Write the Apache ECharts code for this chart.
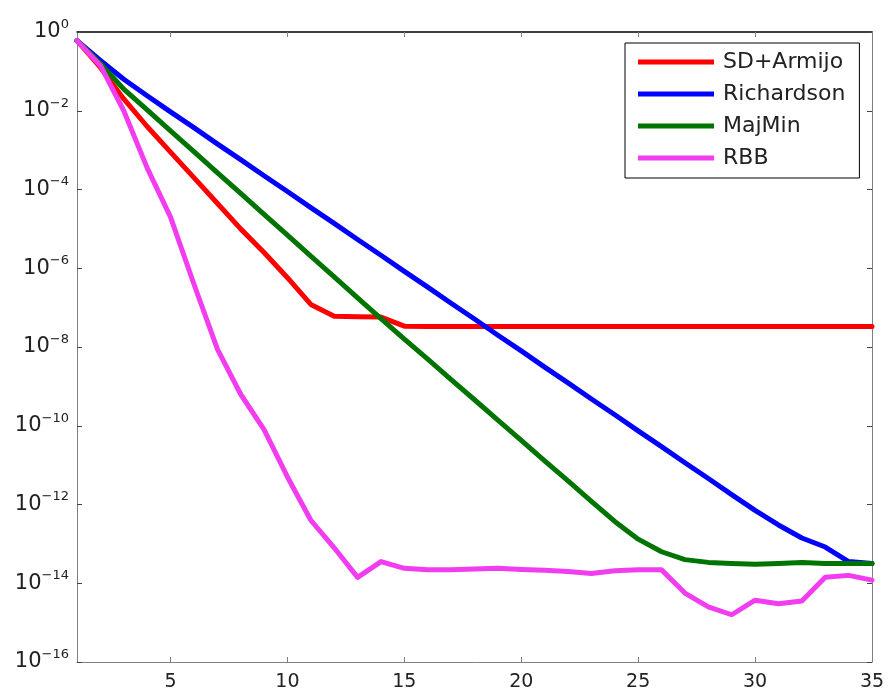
<!DOCTYPE html>
<html>
<head>
<meta charset="utf-8">
<script src="https://cdn.jsdelivr.net/npm/echarts@6/dist/echarts.min.js"></script>
<style>
  html, body { margin: 0; padding: 0; background: #fff; }
  #chart { width: 892px; height: 693px; }
</style>
</head>
<body>
<div id="chart"></div>
<script>
// iteration index
var iterations = [1,2,3,4,5,6,7,8,9,10,11,12,13,14,15,16,17,18,19,20,21,22,23,24,25,26,27,28,29,30,31,32,33,34,35];

// error values as log10 exponents
var sdArmijoLog = [-0.22,-0.9,-1.7,-2.4,-3.05,-3.7,-4.35,-5.0,-5.6,-6.24,-6.92,-7.22,-7.23,-7.24,-7.47,
  -7.48,-7.48,-7.48,-7.48,-7.48,-7.48,-7.48,-7.48,-7.48,-7.48,-7.48,-7.48,-7.48,-7.48,-7.48,-7.48,-7.48,-7.48,-7.48,-7.48];
var richardsonLog = [-0.22,-0.72,-1.2,-1.62,-2.03,-2.43,-2.84,-3.24,-3.65,-4.05,-4.46,-4.86,-5.27,-5.67,-6.08,-6.48,-6.89,
  -7.29,-7.70,-8.10,-8.51,-8.91,-9.32,-9.72,-10.13,-10.53,-10.94,-11.34,-11.75,-12.15,-12.52,-12.85,-13.08,-13.45,-13.5];
var majMinLog = [-0.22,-0.8,-1.45,-1.98,-2.51,-3.04,-3.57,-4.10,-4.63,-5.16,-5.69,-6.22,-6.75,-7.28,-7.80,-8.31,-8.83,
  -9.34,-9.86,-10.37,-10.89,-11.4,-11.92,-12.43,-12.88,-13.2,-13.4,-13.47,-13.5,-13.52,-13.5,-13.47,-13.5,-13.5,-13.5];
var rbbLog = [-0.22,-0.85,-2.0,-3.45,-4.7,-6.4,-8.05,-9.2,-10.1,-11.3,-12.4,-13.1,-13.85,-13.45,-13.62,-13.66,-13.66,
  -13.64,-13.62,-13.65,-13.67,-13.7,-13.75,-13.68,-13.66,-13.66,-14.25,-14.6,-14.8,-14.43,-14.52,-14.45,-13.85,-13.8,-13.92];

var seriesNames = ['SD+Armijo', 'Richardson', 'MajMin', 'RBB'];
var seriesColors = ['#ff0000', '#0000ff', '#007400', '#f23cf0'];
var xTickValues = [5,10,15,20,25,30,35];

function toPoints(logs){
  return iterations.map(function(it, i){ return [it, Math.pow(10, logs[i])]; });
}

function powLabel(v){
  var e = Math.round(Math.log10(v));
  var s = e < 0 ? '\u2212' + (-e) : '' + e;
  return '{b|10}{s|' + s + '}';
}

var chart = echarts.init(document.getElementById('chart'));
var font = 'DejaVu Sans';
var axisGray = '#808080';

var option = {
  animation: false,
  backgroundColor: '#fff',
  grid: { left: 77, right: 20, top: 32, bottom: 31, show: false },
  legend: {
    orient: 'vertical',
    left: 625,
    top: 43,
    padding: [8, 14, 9, 13],
    itemGap: 10,
    itemWidth: 76,
    itemHeight: 5,
    icon: 'rect',
    borderColor: '#000',
    borderWidth: 1,
    backgroundColor: '#fff',
    textStyle: { fontFamily: font, fontSize: 22, color: '#222', padding: [0, 0, 0, 4] },
    data: seriesNames
  },
  xAxis: [{
    type: 'value', min: 1, max: 35,
    axisLine: { lineStyle: { color: axisGray, width: 1 } },
    axisTick: { inside: true, length: 5, customValues: xTickValues, lineStyle: { color: axisGray } },
    axisLabel: { customValues: xTickValues, fontFamily: font, fontSize: 19, color: '#222', margin: 11 },
    splitLine: { show: false }
  }, {
    type: 'value', min: 1, max: 35, position: 'top',
    axisLine: { lineStyle: { color: '#000', width: 1.5 } },
    axisTick: { inside: true, length: 5, customValues: xTickValues, lineStyle: { color: axisGray } },
    axisLabel: { show: false },
    splitLine: { show: false }
  }],
  yAxis: [{
    type: 'log', logBase: 10, min: 1e-16, max: 1, interval: 2,
    axisLine: { show: true, lineStyle: { color: axisGray, width: 1 } },
    axisTick: { show: true, inside: true, length: 5, lineStyle: { color: '#444' } },
    minorTick: { show: false },
    axisLabel: {
      margin: 8,
      padding: [0, 0, 6, 0],
      formatter: powLabel,
      rich: {
        b: { fontFamily: font, fontSize: 21, color: '#222', lineHeight: 22, padding: [6, 0, 0, 0] },
        s: { fontFamily: font, fontSize: 13, color: '#222', verticalAlign: 'top', lineHeight: 13 }
      }
    },
    splitLine: { show: false }
  }, {
    type: 'log', logBase: 10, min: 1e-16, max: 1, interval: 2, position: 'right',
    axisLine: { show: true, lineStyle: { color: axisGray, width: 1 } },
    axisTick: { show: true, inside: true, length: 5, lineStyle: { color: '#444' } },
    axisLabel: { show: false },
    splitLine: { show: false }
  }],
  series: [sdArmijoLog, richardsonLog, majMinLog, rbbLog].map(function(logs, i){
    return {
      name: seriesNames[i],
      type: 'line',
      data: toPoints(logs),
      showSymbol: false,
      symbol: 'none',
      color: seriesColors[i],
      lineStyle: { width: 5, color: seriesColors[i], join: 'round', cap: 'round' },
      z: 2 + i
    };
  })
};

chart.setOption(option);
</script>
</body>
</html>
